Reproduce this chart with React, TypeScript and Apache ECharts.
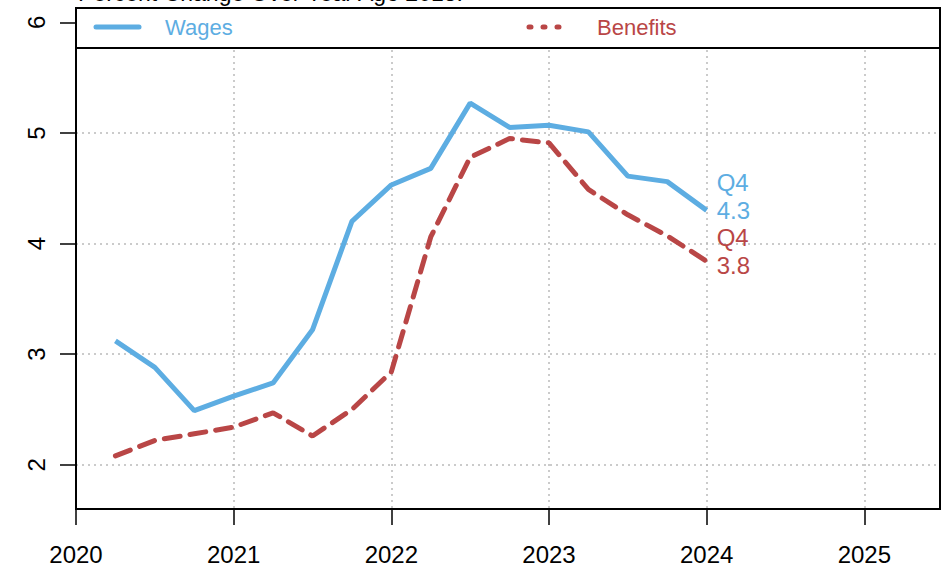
import React, { useEffect, useRef } from "react";
import * as echarts from "echarts";

const quarters = [
  2020.25, 2020.5, 2020.75, 2021.0, 2021.25, 2021.5, 2021.75, 2022.0,
  2022.25, 2022.5, 2022.75, 2023.0, 2023.25, 2023.5, 2023.75, 2024.0,
];
const wages = [3.12, 2.88, 2.49, 2.62, 2.74, 3.22, 4.2, 4.53, 4.68, 5.27, 5.05, 5.07, 5.01, 4.61, 4.56, 4.3];
const benefits = [2.08, 2.22, 2.28, 2.34, 2.47, 2.26, 2.5, 2.84, 4.06, 4.78, 4.95, 4.91, 4.49, 4.26, 4.07, 3.84];
const xTicks = [2020, 2021, 2022, 2023, 2024, 2025];
const yTicks = [2, 3, 4, 5, 6];
const wagesLabel = ["Q4", "4.3"];
const benefitsLabel = ["Q4", "3.8"];
const title = "Percent Change Over Year Ago 2018.";

const BLUE = "#5dade2";
const RED = "#b94646";
const FONT = "'Liberation Sans', Arial, sans-serif";

export default function App() {
  const ref = useRef<HTMLDivElement>(null);
  useEffect(() => {
    if (!ref.current) return;
    const chart = echarts.init(ref.current, null, { renderer: "svg" });
    const gridLine = { show: true, lineStyle: { color: "#bbbbbb", width: 1.5, type: [2, 4] as any } };
    const endLabel = (lines: string[], color: string, dy: number) => ({
      show: true,
      distance: 10,
      offset: [0, dy],
      formatter: lines.join("\n"),
      color,
      fontSize: 24,
      lineHeight: 28,
      fontFamily: FONT,
      align: "left",
    });
    const pts = (vals: number[]) => vals.map((v, i) => [quarters[i], v]);
    chart.setOption({
      animation: false,
      textStyle: { fontFamily: FONT },
      grid: {
        left: 76,
        right: 7,
        top: 8,
        bottom: 63,
        show: true,
        borderColor: "#000",
        borderWidth: 2,
        backgroundColor: "transparent",
      },
      xAxis: {
        type: "value",
        min: 2020,
        max: 2025.48,
        axisLine: { show: true, lineStyle: { color: "#000", width: 2 } },
        axisTick: { show: true, customValues: xTicks, length: 16, lineStyle: { color: "#000", width: 1.5 } },
        axisLabel: {
          customValues: xTicks,
          color: "#000",
          fontSize: 24,
          fontFamily: FONT,
          margin: 33,
          formatter: (v: number) => String(v),
        },
        splitLine: gridLine,
      },
      yAxis: {
        type: "value",
        min: 1.6,
        max: 6.13,
        axisLine: { show: true, lineStyle: { color: "#000", width: 2 } },
        axisTick: { show: true, customValues: yTicks, length: 16, lineStyle: { color: "#000", width: 1.5 } },
        axisLabel: {
          customValues: yTicks,
          color: "#000",
          fontSize: 24,
          fontFamily: FONT,
          margin: 28,
          rotate: 90,
        },
        splitLine: gridLine,
      },
      series: [
        {
          name: "Wages",
          type: "line",
          data: pts(wages),
          symbol: "none",
          lineStyle: { color: BLUE, width: 5 },
          itemStyle: { color: BLUE },
          endLabel: endLabel(wagesLabel, BLUE, -14),
          z: 3,
        },
        {
          name: "Benefits",
          type: "line",
          data: pts(benefits),
          symbol: "none",
          lineStyle: { color: RED, width: 5, type: [16, 10], cap: "round" },
          itemStyle: { color: RED },
          endLabel: endLabel(benefitsLabel, RED, -10),
          z: 2,
        },
      ],
      graphic: [
        {
          type: "text",
          left: 78,
          top: -19,
          style: { text: title, fontSize: 23, fontFamily: FONT, fill: "#000" },
          z: 10,
        },
        {
          type: "rect",
          shape: { x: 76, y: 8, width: 864, height: 40 },
          style: { fill: "#fff", stroke: "#000", lineWidth: 2 },
          z: 10,
        },
        {
          type: "line",
          shape: { x1: 96, y1: 27, x2: 139, y2: 27 },
          style: { stroke: BLUE, lineWidth: 5, lineCap: "round" },
          z: 11,
        },
        {
          type: "text",
          x: 165,
          y: 27,
          style: { text: "Wages", fontSize: 22, fontFamily: FONT, fill: BLUE, verticalAlign: "middle" },
          z: 11,
        },
        {
          type: "line",
          shape: { x1: 529, y1: 27, x2: 563, y2: 27 },
          style: { stroke: RED, lineWidth: 5, lineCap: "round", lineDash: [2, 12] },
          z: 11,
        },
        {
          type: "text",
          x: 597,
          y: 27,
          style: { text: "Benefits", fontSize: 22, fontFamily: FONT, fill: RED, verticalAlign: "middle" },
          z: 11,
        },
      ],
    });
    return () => chart.dispose();
  }, []);
  return (
    <div
      ref={ref}
      style={{ position: "fixed", left: 0, top: 0, width: 947, height: 572, background: "#fff" }}
    />
  );
}
